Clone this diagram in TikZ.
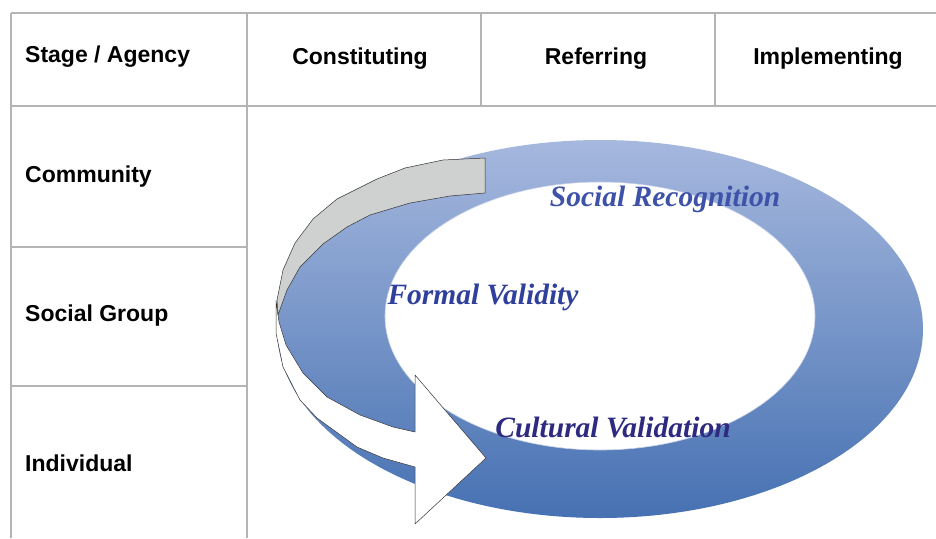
\documentclass[tikz,border=0pt]{standalone}
\usepackage{fontspec}
\setmainfont{Liberation Sans}
\newfontfamily\ringfnt{Liberation Serif}
\definecolor{gridgray}{HTML}{B4B4B4}
\definecolor{ringtop}{HTML}{A6B8DE}
\definecolor{ringmid}{HTML}{809CCF}
\definecolor{ringbot}{HTML}{4671B2}
\definecolor{bandgray}{HTML}{CFD0D0}
\definecolor{srcol}{HTML}{3D52A8}
\definecolor{fvcol}{HTML}{2F3F9C}
\definecolor{cvcol}{HTML}{2E2A80}
\begin{document}
\begin{tikzpicture}[x=1pt,y=-1pt,
  grid/.style={draw=gridgray, line width=1.6pt},
  hdr/.style={font=\fontsize{23}{27}\selectfont\bfseries, inner sep=0pt},
  lbl/.style={font=\ringfnt\fontsize{29.5}{34}\selectfont\bfseries\itshape, inner sep=0pt},
  band/.style={draw=black!80, line width=0.5pt, line join=round}]
\useasboundingbox (0,0) rectangle (936,538);
% table grid
\draw[grid] (11,13) -- (936,13);
\draw[grid] (11,106) -- (936,106);
\draw[grid] (11,13) -- (11,538);
\draw[grid] (247,13) -- (247,538);
\draw[grid] (481,13) -- (481,106);
\draw[grid] (715,13) -- (715,106);
\draw[grid] (11,247) -- (247,247);
\draw[grid] (11,386) -- (247,386);
% header and row texts
\node[hdr, anchor=west] (stage) at (25,57) {Stage / Agency};
\node[hdr] (const) at (360,59) {Constituting};
\node[hdr] (refer) at (596,59) {Referring};
\node[hdr] (impl) at (828,59) {Implementing};
\node[hdr, anchor=west] (comm) at (25,177) {Community};
\node[hdr, anchor=west] (socg) at (25,316) {Social Group};
\node[hdr, anchor=west] (indiv) at (25,463) {Individual};
% ring
\shade[top color=ringtop, middle color=ringmid, bottom color=ringbot, even odd rule]
  (600,329) ellipse [x radius=323, y radius=189]
  (600,316) ellipse [x radius=215, y radius=134];
\draw[draw=ringtop!60!white, line width=0.6pt] (600,316) ellipse [x radius=215, y radius=134];
% white curved arrow
\draw[band, fill=white] (276,300) -- (276,333) -- (283,367) -- (300,400) -- (317,418)
  -- (357,447) -- (383,458) -- (415,467) -- (415,524) -- (486,458) -- (415,375)
  -- (415,432) -- (393,427) -- (360,415) -- (327,397) -- (303,373) -- (286,345)
  -- (279,322) -- cycle;
% gray band
\draw[band, fill=bandgray] (485,158) -- (443,160) -- (405,168) -- (377,179) -- (337,199)
  -- (313,219) -- (295,243) -- (283,270) -- (277,300) -- (278,315) -- (287,290)
  -- (300,267) -- (323,244) -- (347,227) -- (370,215) -- (410,203) -- (450,196)
  -- (485,193) -- cycle;
% ring labels
\node[lbl, text=srcol] (sr) at (665,199) {Social Recognition};
\node[lbl, text=fvcol] (fv) at (483,297) {Formal Validity};
\node[lbl, text=cvcol] (cv) at (613,427) {Cultural Validation};
\end{tikzpicture}
\end{document}
